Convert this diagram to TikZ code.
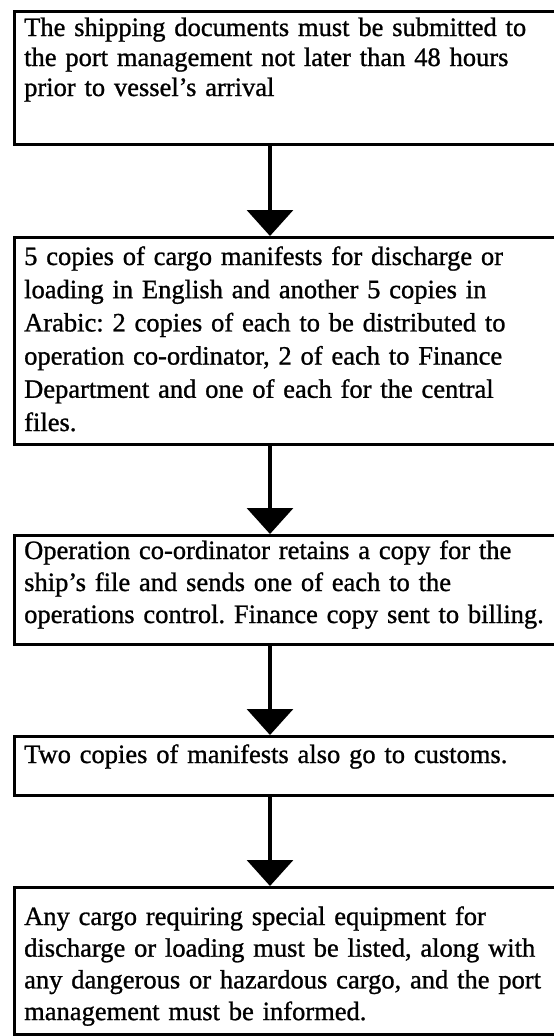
\documentclass[tikz,border=0pt]{standalone}
\usepackage{fontspec}
\setmainfont{Liberation Serif}[FakeBold=1]
\usetikzlibrary{arrows.meta}
\frenchspacing
\begin{document}
\begin{tikzpicture}[x=1pt,y=-1pt,
  stepbox/.style={draw=black, line width=3pt, rectangle, inner sep=0pt, anchor=north west, minimum width=542pt},
  steptext/.style={anchor=base west, inner sep=0pt, text width=535pt, align=left},
  flow/.style={line width=3.5pt, -{Triangle[width=46pt,length=26pt]}}]
\useasboundingbox (0,0) rectangle (554,1036);
% boxes
\node[stepbox, minimum height=133pt] (b1) at (12.5,10) {};
\node[stepbox, minimum height=207pt] (b2) at (12.5,236) {};
\node[stepbox, minimum height=109pt] (b3) at (12.5,534) {};
\node[stepbox, minimum height=59pt] (b4) at (12.5,735) {};
\node[stepbox, minimum height=147pt] (b5) at (12.5,886) {};
% texts
\node[steptext, font={\fontsize{26.5}{30}\selectfont}] (t1) at (24,36) {The shipping documents must be submitted to\\the port management not later than 48 hours\\prior to vessel’s arrival};
\node[steptext, font={\fontsize{26.5}{33.2}\selectfont}] (t2) at (24,265) {5 copies of cargo manifests for discharge or\\loading in English and another 5 copies in\\Arabic: 2 copies of each to be distributed to\\operation co-ordinator, 2 of each to Finance\\Department and one of each for the central\\files.};
\node[steptext, font={\fontsize{26.5}{32}\selectfont}] (t3) at (24,559) {Operation co-ordinator retains a copy for the\\ship’s file and sends one of each to the\\operations control. Finance copy sent to billing.};
\node[steptext, font={\fontsize{26.5}{32}\selectfont}] (t4) at (24,763) {Two copies of manifests also go to customs.};
\node[steptext, font={\fontsize{26.5}{31.7}\selectfont}] (t5) at (24,925) {Any cargo requiring special equipment for\\discharge or loading must be listed, along with\\any dangerous or hazardous cargo, and the port\\management must be informed.};
% connectors
\draw[flow] (b1.south -| 270,0) -- (b2.north -| 270,0);
\draw[flow] (b2.south -| 270,0) -- (b3.north -| 270,0);
\draw[flow] (b3.south -| 270,0) -- (b4.north -| 270,0);
\draw[flow] (b4.south -| 270,0) -- (b5.north -| 270,0);
\end{tikzpicture}
\end{document}
